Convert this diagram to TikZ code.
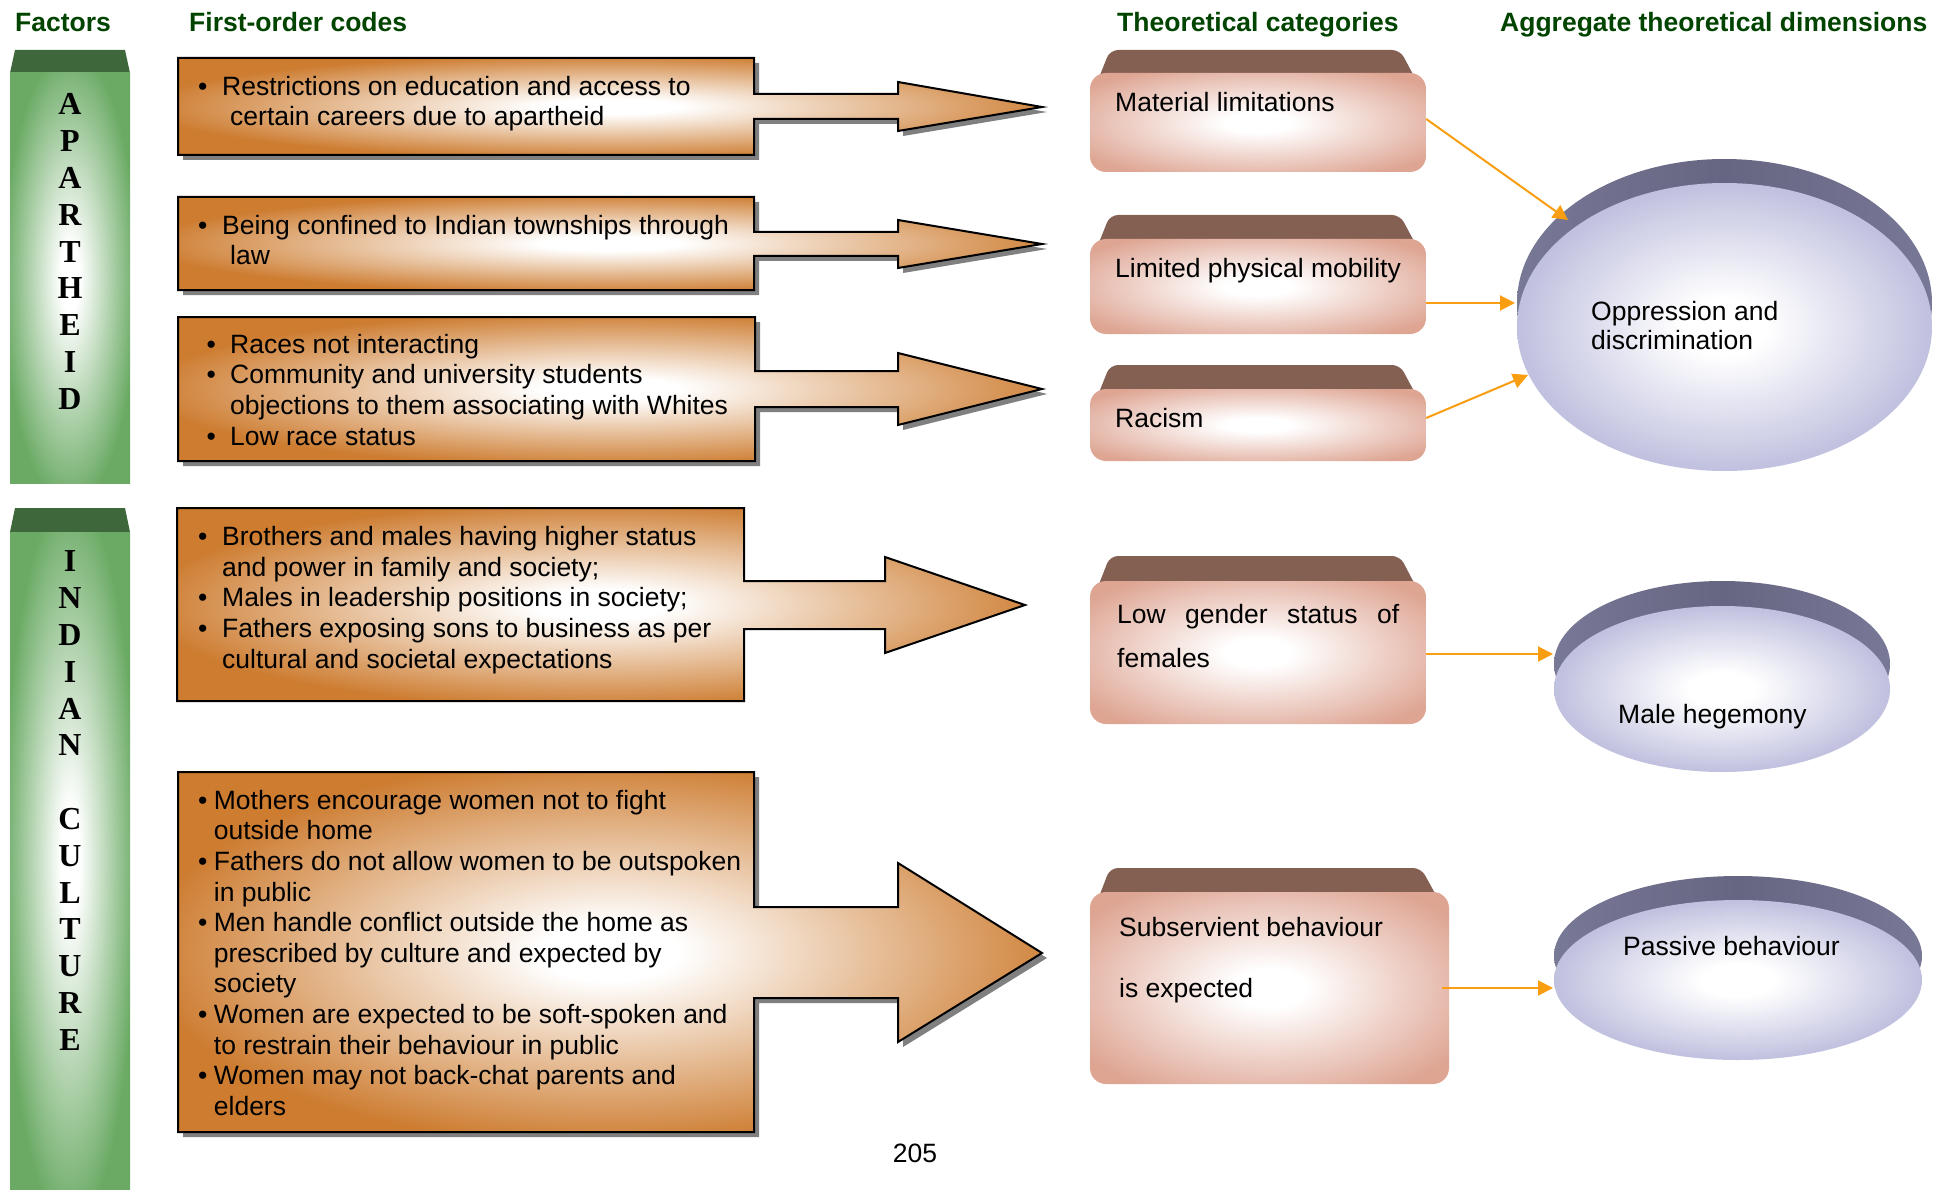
\documentclass[tikz,border=0pt]{standalone}
\usepackage{fontspec}
\setmainfont{Liberation Sans}
\newfontfamily\colfont{Liberation Serif}
\usetikzlibrary{arrows.meta,shapes.geometric}

\definecolor{hdrgreen}{RGB}{0,68,0}
\definecolor{orangeC}{RGB}{205,124,48}
\definecolor{shadowG}{RGB}{128,128,128}
\definecolor{colGreen}{RGB}{106,170,100}
\definecolor{colTop}{RGB}{62,104,60}
\definecolor{salmon}{RGB}{222,165,147}
\definecolor{bevelB}{RGB}{132,96,83}
\definecolor{lav}{RGB}{170,170,212}
\definecolor{capL}{RGB}{138,138,172}
\definecolor{capD}{RGB}{102,102,130}
\definecolor{connO}{RGB}{248,158,16}

\pgfdeclareradialshading{orglow}{\pgfpoint{0bp}{0bp}}{color(0bp)=(white); color(4bp)=(white); color(27bp)=(orangeC); color(50bp)=(orangeC)}
\pgfdeclareradialshading{grglow}{\pgfpoint{0bp}{0bp}}{color(0bp)=(white); color(4bp)=(white); color(28bp)=(colGreen); color(50bp)=(colGreen)}
\pgfdeclareradialshading{saglow}{\pgfpoint{0bp}{0bp}}{color(0bp)=(white); color(5bp)=(white); color(31bp)=(salmon); color(50bp)=(salmon)}
\pgfdeclareradialshading{lavglow}{\pgfpoint{0bp}{0bp}}{color(0bp)=(white); color(5bp)=(white); color(32bp)=(lav); color(50bp)=(lav)}
\pgfdeclarehorizontalshading{capsh}{100bp}{color(0bp)=(capL); color(50bp)=(capD); color(100bp)=(capL)}

\newcommand{\bulit}[1]{\makebox[#1][l]{\textbullet}}
% #1 clip path, #2 shading, #3 cx, #4 cy, #5 xscale, #6 yscale
\newcommand{\glowfill}[6]{%
  \begin{scope}
    \clip #1;
    \begin{scope}[transform canvas={shift={(#3,#4)},xscale=#5,yscale=#6}]
      \shade[shading=#2] (-50,-50) rectangle (50,50);
    \end{scope}
  \end{scope}}

\tikzset{
  hdr/.style={anchor=base west, inner sep=0, text=hdrgreen, font=\bfseries\fontsize{26.5}{30}\selectfont},
  codetext/.style={anchor=north west, inner sep=0, align=left, font=\fontsize{26.5}{30.6}\selectfont},
  lbl/.style={anchor=base west, inner sep=0, font=\fontsize{26.5}{30.6}\selectfont},
  codeline/.style={draw=black, line width=2pt},
  shadowshape/.style={fill=shadowG, draw=none},
  colletter/.style={inner sep=0, font=\colfont\bfseries\fontsize{32}{34}\selectfont},
  coltop/.style={fill=colTop},
  catbox/.style={rectangle, inner sep=0},
  bevel/.style={fill=bevelB, rounded corners=8pt},
  dimbody/.style={ellipse, inner sep=0},
  conn/.style={draw=connO, line width=2pt, -{Triangle[length=15pt,width=15pt]}},
}

\begin{document}
\begin{tikzpicture}[x=1pt,y=-1pt]
\fill[white] (0,0) rectangle (1948,1190);
\useasboundingbox (0,0) rectangle (1948,1190);

% headers
\node[hdr] (h1) at (15,32) {Factors};
\node[hdr] (h2) at (189,32) {First-order codes};
\node[hdr] (h3) at (1117,32) {Theoretical categories};
\node[hdr] (h4) at (1500,32) {Aggregate theoretical dimensions};

% green factor columns
\path[coltop] (15,50) -- (125,50) -- (130,73) -- (10,73) -- cycle;
\glowfill{(10,73) rectangle (130,483)}{grglow}{70}{278}{1.2}{4.1}
\path[coltop] (15,508) -- (125,508) -- (130,532) -- (10,532) -- cycle;
\glowfill{(10,532) rectangle (130,1190)}{grglow}{70}{861}{1.2}{6.58}
\foreach \L [count=\i] in {A,P,A,R,T,H,E,I,D}
  \node[colletter] (ap\i) at (70,{104.4+36.8*(\i-1)}) {\L};
\foreach \L [count=\i] in {I,N,D,I,A,N}
  \node[colletter] (ic\i) at (70,{561.5+36.8*(\i-1)}) {\L};
\foreach \L [count=\i] in {C,U,L,T,U,R,E}
  \node[colletter] (cu\i) at (70,{819.1+36.8*(\i-1)}) {\L};

% code shapes (box + arrow): paths
\def\pA{(178,58) -- (754,58) -- (754,94) -- (898,94) -- (898,82) -- (1042,107) -- (898,131) -- (898,119) -- (754,119) -- (754,155) -- (178,155) -- cycle}
\def\pB{(178,197) -- (754,197) -- (754,232) -- (898,232) -- (898,220) -- (1042,244) -- (898,268) -- (898,256) -- (754,256) -- (754,290) -- (178,290) -- cycle}
\def\pC{(178,317) -- (755,317) -- (755,371) -- (898,371) -- (898,353) -- (1042,389) -- (898,425) -- (898,407) -- (755,407) -- (755,461) -- (178,461) -- cycle}
\def\pD{(177,508) -- (744,508) -- (744,581) -- (885,581) -- (885,557) -- (1025,605) -- (885,653) -- (885,629) -- (744,629) -- (744,701) -- (177,701) -- cycle}
\def\pE{(178,772) -- (754,772) -- (754,907) -- (898,907) -- (898,863) -- (1042,953) -- (898,1042) -- (898,998) -- (754,998) -- (754,1132) -- (178,1132) -- cycle}

% shadows
\begin{scope}[shift={(5,5)}]
\path[shadowshape] \pA;
\path[shadowshape] \pB;
\path[shadowshape] \pC;
\path[shadowshape] \pE;
\end{scope}

% fills
\glowfill{\pA}{orglow}{610}{106.5}{8.64}{0.97}
\glowfill{\pB}{orglow}{610}{243.5}{8.64}{0.93}
\glowfill{\pC}{orglow}{610}{389}{8.64}{1.44}
\glowfill{\pD}{orglow}{601}{604.5}{8.48}{1.93}
\glowfill{\pE}{orglow}{610}{952}{8.64}{3.6}
% outlines
\path[codeline] \pA;
\path[codeline] \pB;
\path[codeline] \pC;
\path[codeline] \pD;
\path[codeline] \pE;

% code texts
\node[codetext] (t1) at (198,73.6) {\strut\bulit{24pt}Restrictions on education and access to\\
  \hspace*{32pt}certain careers due to apartheid};
\node[codetext] (t2) at (198,212.6) {\strut\bulit{24pt}Being confined to Indian townships through\\
  \hspace*{32pt}law};
\node[codetext] (t3) at (206.5,331.6) {\strut\bulit{23.5pt}Races not interacting\\
  \bulit{23.5pt}Community and university students\\
  \hspace*{23.5pt}objections to them associating with Whites\\
  \bulit{23.5pt}Low race status};
\node[codetext] (t4) at (198,524.1) {\strut\bulit{24pt}Brothers and males having higher status\\
  \hspace*{24pt}and power in family and society;\\
  \bulit{24pt}Males in leadership positions in society;\\
  \bulit{24pt}Fathers exposing sons to business as per\\
  \hspace*{24pt}cultural and societal expectations};
\node[codetext] (t5) at (198,787.6) {\strut\bulit{15.7pt}Mothers encourage women not to fight\\
  \hspace*{15.7pt}outside home\\
  \bulit{15.7pt}Fathers do not allow women to be outspoken\\
  \hspace*{15.7pt}in public\\
  \bulit{15.7pt}Men handle conflict outside the home as\\
  \hspace*{15.7pt}prescribed by culture and expected by\\
  \hspace*{15.7pt}society\\
  \bulit{15.7pt}Women are expected to be soft-spoken and\\
  \hspace*{15.7pt}to restrain their behaviour in public\\
  \bulit{15.7pt}Women may not back-chat parents and\\
  \hspace*{15.7pt}elders};

\node[anchor=base, inner sep=0, font=\fontsize{26.5}{30.6}\selectfont] (pg) at (915,1162) {205};

% theoretical category boxes
\path[bevel] (1092,95) -- (1110,50) -- (1400,50) -- (1424,95) -- cycle;
\path[bevel] (1092,260) -- (1110,215) -- (1400,215) -- (1424,260) -- cycle;
\path[bevel] (1092,410) -- (1110,365) -- (1400,365) -- (1424,410) -- cycle;
\path[bevel] (1092,602) -- (1110,556) -- (1400,556) -- (1424,602) -- cycle;
\path[bevel] (1092,915) -- (1110,868) -- (1421,868) -- (1447,915) -- cycle;
\glowfill{[rounded corners=16pt] (1090,73) rectangle (1426,172)}{saglow}{1258}{122.5}{3.36}{0.99}
\glowfill{[rounded corners=16pt] (1090,239) rectangle (1426,334)}{saglow}{1258}{286.5}{3.36}{0.95}
\glowfill{[rounded corners=16pt] (1090,389) rectangle (1426,461)}{saglow}{1258}{425}{3.36}{0.72}
\glowfill{[rounded corners=16pt] (1090,581) rectangle (1426,724)}{saglow}{1258}{652.5}{3.36}{1.43}
\glowfill{[rounded corners=16pt] (1090,892) rectangle (1449,1084)}{saglow}{1269.5}{988}{3.59}{1.92}
\node[catbox, minimum width=336pt, minimum height=99pt] (c1) at (1258,122.5) {};
\node[catbox, minimum width=336pt, minimum height=95pt] (c2) at (1258,286.5) {};
\node[catbox, minimum width=336pt, minimum height=72pt] (c3) at (1258,425) {};
\node[catbox, minimum width=336pt, minimum height=143pt] (c4) at (1258,652.5) {};
\node[catbox, minimum width=359pt, minimum height=192pt] (c5) at (1269.5,988) {};
\node[lbl] (l1) at (1115,112) {Material limitations};
\node[lbl] (l2) at (1115,278) {Limited physical mobility};
\node[lbl] (l3) at (1115,427) {Racism};
\node[lbl] (l4a) at (1117,623) {\makebox[282pt][s]{Low\hfil gender\hfil status\hfil of}};
\node[lbl] (l4b) at (1117,667) {females};
\node[lbl] (l5a) at (1119,936) {Subservient behaviour};
\node[lbl] (l5b) at (1119,997) {is expected};

% aggregate dimensions (cap + body)
\glowfill{(1724.5,303) ellipse [x radius=207.5pt, y radius=144pt]}{capsh}{1724.5}{303}{4.15}{2.88}
\glowfill{(1724.5,327) ellipse [x radius=207.5pt, y radius=144pt]}{lavglow}{1724.5}{327}{4.15}{2.88}
\glowfill{(1722,664) ellipse [x radius=168pt, y radius=83pt]}{capsh}{1722}{664}{3.36}{1.66}
\glowfill{(1722,689) ellipse [x radius=168pt, y radius=83pt]}{lavglow}{1722}{689}{3.36}{1.66}
\glowfill{(1738,956) ellipse [x radius=184pt, y radius=80pt]}{capsh}{1738}{956}{3.68}{1.6}
\glowfill{(1738,980) ellipse [x radius=184pt, y radius=80pt]}{lavglow}{1738}{980}{3.68}{1.6}
\node[dimbody, minimum width=415pt, minimum height=288pt] (o1) at (1724.5,327) {};
\node[dimbody, minimum width=336pt, minimum height=166pt] (o2) at (1722,689) {};
\node[dimbody, minimum width=368pt, minimum height=160pt] (o3) at (1738,980) {};
\node[lbl] (d1a) at (1591,320) {Oppression and};
\node[lbl] (d1b) at (1591,349) {discrimination};
\node[lbl] (d2) at (1618,723) {Male hegemony};
\node[lbl] (d3) at (1623,955) {Passive behaviour};

% connectors
\draw[conn] ([yshift=3.5pt]c1.east) -- ([xshift=-156.5pt,yshift=107pt]o1.center);
\draw[conn] ([yshift=-16.5pt]c2.east) -- ([xshift=-209.5pt,yshift=24pt]o1.center);
\draw[conn] ([yshift=7pt]c3.east) -- ([xshift=-196.5pt,yshift=-48pt]o1.center);
\draw[conn] ([yshift=-1.5pt]c4.east) -- ([xshift=-169pt,yshift=35pt]o2.center);
\draw[conn] ([xshift=-7pt]c5.east) -- ([xshift=-185pt,yshift=-8pt]o3.center);
\end{tikzpicture}
\end{document}
